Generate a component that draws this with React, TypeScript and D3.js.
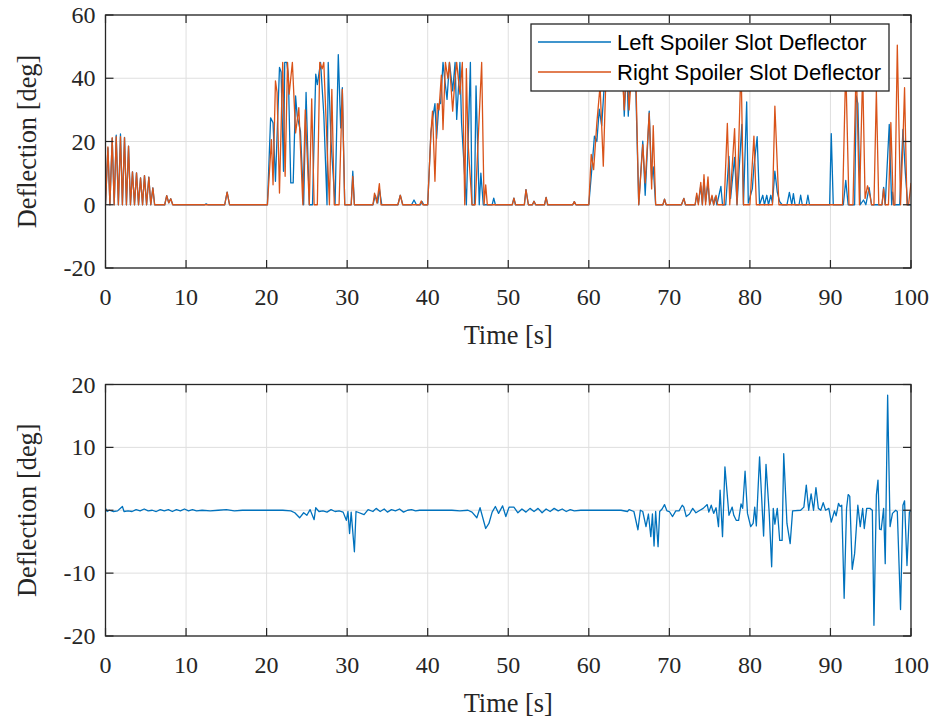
import React from "react";
import * as d3 from "d3";

const xTicks = [0, 10, 20, 30, 40, 50, 60, 70, 80, 90, 100];
const topYTicks = [-20, 0, 20, 40, 60];
const bottomYTicks = [-20, -10, 0, 10, 20];
const seriesNames = ["Left Spoiler Slot Deflector", "Right Spoiler Slot Deflector"];
const xLabel = "Time [s]";
const yLabel = "Deflection [deg]";

const leftDeflector: [number, number][] = [
  [0, 0], [0.3, 18], [0.55, 0], [0.83, 21], [1.08, 0], [1.33, 22], [1.6, 0], [1.86, 22.4], [2.1, 0], [2.36, 21.3], [2.6, 0],
  [2.86, 18.5], [3.1, 0], [3.35, 10.4], [3.6, 0], [3.85, 10.1], [4.1, 0], [4.35, 8.5], [4.6, 0], [4.84, 9.2], [5.1, 0],
  [5.38, 8.7], [5.62, 0], [5.88, 5.3], [6.1, 0], [7.35, 0], [7.6, 2.9], [7.85, 0.6], [8.1, 1.9], [8.35, 0], [12.3, 0],
  [12.5, 0.3], [12.7, 0], [14.8, 0], [15.1, 4], [15.4, 0], [20.1, 0],
  [20.5, 27.5], [20.8, 25.9], [21.1, 7.4], [21.6, 43.4], [21.8, 42], [22.1, 10.6], [22.25, 45], [22.5, 45], [22.7, 41],
  [23.0, 6.9], [23.3, 6.9], [23.6, 34.4], [23.8, 28], [24.2, 23.3], [24.6, 0], [24.9, 35.5], [25.3, 0], [25.7, 0],
  [26.1, 41.3], [26.3, 38], [26.7, 45], [27.1, 28.6], [27.5, 0], [27.65, 45], [28.0, 20], [28.5, 0], [28.9, 47.5],
  [29.2, 24.3], [29.4, 37], [29.7, 0], [30.5, 0], [30.7, 10.6], [30.9, 0],
  [33.2, 0], [33.5, 3], [33.8, 0.5], [34.0, 5], [34.3, 0], [36.3, 0], [36.6, 3], [36.9, 0], [38.0, 0], [38.3, 1.5],
  [38.6, 0], [39.1, 0], [39.3, 1], [39.5, 0], [40.0, 0],
  [40.4, 22.8], [40.6, 27], [40.9, 32], [41.1, 21], [41.4, 32], [41.6, 32], [41.9, 45], [42.1, 40], [42.4, 33.3],
  [42.7, 45], [43.1, 36], [43.4, 45], [43.6, 27], [44.0, 45], [44.2, 26], [44.8, 0], [45.3, 45], [45.5, 0], [45.8, 0],
  [46.0, 37.6], [46.4, 0], [46.6, 10], [46.9, 0], [48.0, 0], [48.2, 2.1], [48.4, 0],
  [50.5, 0], [50.7, 2.1], [50.9, 0], [52.0, 0], [52.2, 4.8], [52.5, 0], [53.0, 0], [53.2, 1.1], [53.4, 0], [54.5, 0],
  [54.7, 2.3], [54.9, 0], [58.0, 0], [58.2, 1], [58.4, 0], [60.0, 0],
  [60.4, 12], [60.7, 21.7], [61.0, 20], [61.3, 30.2], [61.6, 25], [61.9, 37], [62.3, 40.7], [62.6, 45], [63.0, 42],
  [63.4, 45], [63.8, 38], [64.2, 45], [64.4, 28], [64.7, 45], [64.9, 28], [65.2, 45], [65.6, 45], [65.8, 40], [66.2, 0],
  [66.7, 20.1], [67.0, 3], [67.5, 29.6], [67.8, 8], [68.0, 12], [68.3, 0], [69.2, 0], [69.4, 1.8], [69.6, 0],
  [71.5, 0], [71.8, 2], [72.0, 0], [73.2, 0], [73.4, 3], [73.6, 0.5], [73.9, 6], [74.1, 0], [74.3, 8], [74.5, 1],
  [74.8, 7], [75.0, 0], [75.3, 2.5], [75.5, 0], [75.7, 2.5], [75.9, 0], [76.4, 5.8], [76.6, 0], [77.0, 0], [77.4, 15.3],
  [77.6, 2], [78.1, 15], [78.4, 0], [79.0, 25.4], [79.2, 0], [79.6, 32.5], [79.8, 0.5], [80.3, 5], [80.5, 12],
  [80.9, 21.5], [81.2, 0], [81.6, 3], [81.8, 0], [82.1, 3], [82.3, 0], [82.6, 3], [82.8, 0.5], [83.1, 10.6], [83.4, 4],
  [83.7, 1], [84.0, 0], [84.6, 0], [84.9, 3.9], [85.2, 0], [85.4, 3.5], [85.6, 0], [86.1, 0], [86.3, 3], [86.5, 0],
  [87.0, 0], [87.2, 3], [87.4, 0], [89.9, 0], [90.1, 22.5], [90.35, 0], [91.6, 0], [91.9, 7.7], [92.2, 0], [93.0, 0],
  [93.2, 34.4], [93.4, 32], [93.7, 0], [94.1, 1.5], [94.4, 0], [94.8, 5.4], [95.1, 0], [96.4, 0], [96.6, 5.5], [96.8, 0],
  [97.3, 25.4], [97.6, 0], [97.7, 4], [97.9, 0], [98.6, 0], [99.0, 23.8], [99.3, 10], [99.6, 0], [100, 0],
];

const rightDeflector: [number, number][] = [
  [0, 0], [0.3, 18.3], [0.55, 0], [0.83, 21.2], [1.08, 0], [1.33, 21.5], [1.6, 0], [1.86, 21.5], [2.1, 0], [2.36, 21.2],
  [2.6, 0], [2.86, 18.5], [3.1, 0], [3.35, 10.4], [3.6, 0], [3.85, 10.1], [4.1, 0], [4.35, 8.5], [4.6, 0], [4.84, 9.2],
  [5.1, 0], [5.38, 8.7], [5.62, 0], [5.88, 5.3], [6.1, 0], [7.35, 0], [7.6, 2.9], [7.85, 0.6], [8.1, 1.9], [8.35, 0],
  [14.8, 0], [15.1, 4], [15.4, 0], [20.1, 0],
  [20.6, 20.6], [20.8, 6.3], [21.1, 39.2], [21.3, 35.5], [21.6, 3.7], [22.0, 45], [22.3, 9], [22.6, 45], [22.8, 35],
  [23.0, 40], [23.2, 45], [23.6, 22.7], [24.0, 30.7], [24.5, 0], [24.8, 30], [25.3, 0], [25.6, 33.5], [25.9, 0],
  [26.3, 0], [26.6, 45], [26.9, 43], [27.1, 45], [27.8, 0], [28.1, 36.5], [28.4, 0], [29.0, 0], [29.4, 36.5], [29.7, 0],
  [30.5, 0], [30.7, 9], [30.9, 0],
  [33.2, 0], [33.4, 3.7], [33.7, 0.5], [34.0, 6.7], [34.2, 0], [36.3, 0], [36.6, 3], [36.9, 0], [39.0, 0], [39.2, 1.2],
  [39.4, 0], [40.0, 0],
  [40.4, 22.8], [40.6, 29.6], [40.9, 7.4], [41.2, 32], [41.4, 30], [41.7, 41], [41.9, 23.8], [42.2, 45], [42.5, 40],
  [42.7, 45], [43.1, 29.6], [43.4, 40], [43.6, 45], [44.0, 35], [44.3, 45], [44.6, 0], [44.8, 43], [45.0, 20],
  [45.5, 0], [45.9, 0], [46.7, 45], [47.0, 0], [47.2, 6.3], [47.4, 0],
  [50.5, 0], [50.7, 2.1], [50.9, 0], [52.0, 0], [52.2, 4.8], [52.5, 0], [53.0, 0], [53.2, 1.1], [53.4, 0], [54.5, 0],
  [54.7, 2.3], [54.9, 0], [58.0, 0], [58.2, 1], [58.4, 0], [60.0, 0],
  [60.3, 15.9], [60.6, 11.1], [61.0, 25.9], [61.4, 37.6], [61.8, 12.2], [62.1, 38], [62.5, 45], [62.9, 40], [63.3, 45],
  [63.7, 42], [64.1, 45], [64.4, 30], [64.7, 45], [65.0, 30], [65.4, 45], [65.8, 45], [66.2, 0], [66.7, 19], [67.0, 6.9],
  [67.5, 29], [67.8, 5], [68.0, 25], [68.3, 0], [69.2, 0], [69.4, 1.8], [69.6, 0],
  [71.5, 0], [71.8, 2], [72.0, 0], [73.2, 0], [73.4, 3.7], [73.6, 0], [73.9, 7.1], [74.1, 0], [74.3, 9.5], [74.5, 0],
  [74.8, 8.8], [75.0, 0], [75.3, 3], [75.5, 0], [75.8, 3], [76.0, 0], [76.8, 0], [77.2, 25.7], [77.5, 0], [78.1, 24.1],
  [78.4, 0], [78.9, 45], [79.2, 0], [80.0, 0], [80.5, 21.7], [80.8, 0], [82.8, 0], [83.1, 31.2], [83.6, 0], [91.5, 0],
  [91.9, 44], [92.3, 0], [92.8, 0], [93.2, 45], [93.6, 0], [94.0, 42], [94.3, 2], [94.6, 6], [94.9, 3], [95.1, 0],
  [95.4, 0], [95.7, 36], [96.0, 0], [96.4, 0], [96.6, 5], [96.8, 0], [97.2, 0], [97.5, 26], [97.8, 0], [98.0, 0],
  [98.3, 50.5], [98.7, 0], [99.0, 20], [99.2, 37], [99.5, 0], [99.7, 0], [100, 6.9],
];

const deflectionDifference: [number, number][] = [
  [0, 0.3], [0.2, -0.2], [0.5, 0], [1.0, -0.2], [1.5, -0.1], [2.1, 0.6], [2.3, -0.2], [2.8, -0.1], [3.3, -0.2], [3.8, 0.1],
  [4.3, -0.1], [4.8, 0.2], [5.3, -0.1], [5.8, 0], [6.3, -0.2], [6.8, 0.1], [7.3, -0.1], [7.8, 0.1], [8.3, -0.2],
  [8.8, 0.1], [9.3, -0.1], [9.8, 0.2], [10.3, -0.1], [10.8, 0.1], [11.3, -0.1], [12, 0], [13, -0.1], [14, 0], [15, 0.1],
  [16, -0.1], [17, 0], [18, 0], [19, 0], [20, 0], [22, 0], [23, -0.1], [23.5, -0.4], [24.1, -1.2], [24.6, -0.4],
  [25.0, -0.8], [25.4, 0.1], [25.9, -1.5], [26.1, 0.4], [26.5, -0.2], [27, -0.1], [27.5, -0.3], [28, 0.1], [28.5, -0.2],
  [29, -0.1], [29.5, -0.3], [29.9, -1.6], [30.1, -0.2], [30.3, -3.7], [30.5, -0.3], [30.9, -6.6], [31.1, -0.2],
  [32.1, -0.7], [32.6, 0.1], [33.2, -0.2], [33.6, 0.3], [34.1, -0.2], [34.6, 0.2], [35, -0.3], [35.5, 0.1], [36, -0.1],
  [36.5, 0.2], [37, -0.3], [37.5, 0], [38, 0.1], [38.5, -0.1], [39, 0], [40, 0], [41, 0], [42, 0], [43, 0], [44, -0.1],
  [45, 0], [45.5, -0.3], [46.1, -1.2], [46.5, 0.4], [47.2, -2.9], [47.6, -2.1], [48.0, -0.3], [48.4, 0.6], [48.8, -0.5],
  [49.3, 0.7], [49.7, -1], [50.1, 0.5], [50.7, 0.5], [51.2, -0.4], [51.7, 0.2], [52.2, -0.3], [52.7, 0.3], [53.2, -0.2],
  [53.7, 0.3], [54.2, -0.4], [54.7, 0.2], [55.2, -0.2], [55.7, 0.3], [56.2, -0.1], [56.7, 0.2], [57.2, -0.2],
  [57.7, 0.1], [58.2, -0.1], [59, 0], [60, 0], [62, 0], [64, 0], [64.8, -0.2], [65, 0.1], [65.6, -0.2], [66.1, -3.1],
  [66.4, 0], [66.7, -0.2], [67.1, -2.6], [67.4, -0.6], [67.7, -4.2], [67.9, -0.6], [68.1, -5.7], [68.3, -0.2],
  [68.6, -5.8], [68.8, -0.2], [69.1, 0.2], [69.4, 0.9], [69.7, -0.1], [70.0, -0.2], [70.4, -1], [70.8, -0.1],
  [71.2, -0.1], [71.6, 0.8], [71.8, 0.5], [72.1, -1], [72.5, -0.6], [72.9, 0.3], [73.3, -0.4], [73.8, 0], [74.2, 0.3],
  [74.7, 0.9], [74.9, -0.3], [75.2, 0.8], [75.5, -0.5], [75.8, 0.4], [76.1, -2.6], [76.3, 3.2], [76.6, -4.2],
  [76.9, 6.9], [77.4, -0.8], [77.8, 0.5], [78.0, -0.8], [78.3, -1.6], [78.6, -1.6], [78.9, 1], [79.1, 0.3], [79.4, 6.2],
  [79.7, -0.5], [80.1, -2.6], [80.4, -2.1], [80.6, 0.5], [80.8, -2.5], [81.2, 8.5], [81.7, -4.1], [82.0, 7.3],
  [82.4, -0.5], [82.7, -9], [82.9, 0.3], [83.1, -2.2], [83.4, 0.3], [83.7, -4.8], [84.0, -4.8], [84.2, 9], [84.6, -2.1],
  [85.0, -5.3], [85.3, -0.1], [86.3, 0], [86.7, 0.5], [87.0, 4], [87.3, 0], [87.6, 2.6], [87.9, 0], [88.2, 3.6],
  [88.5, 0.3], [88.8, 0], [89.1, 1.2], [89.4, 0], [89.8, 0.3], [90.1, -1.9], [90.5, -0.1], [90.7, -0.9], [91.0, 1.1],
  [91.2, 0.6], [91.4, 0.8], [91.7, -14], [92.0, 0.3], [92.2, 2.5], [92.4, 2.2], [92.7, -9.4], [93.0, -6.9], [93.4, 0.8],
  [93.7, -2.6], [94.0, 0.3], [94.2, -2.9], [94.5, 0.3], [94.9, 0.3], [95.2, 0], [95.4, -18.3], [95.7, 2.4], [95.9, 4.8],
  [96.1, -3], [96.3, -3.1], [96.6, 0.3], [96.8, -8.5], [97.1, 18.3], [97.4, -2.6], [97.7, -0.5], [98.1, 0], [98.3, -0.2],
  [98.7, -15.8], [99.0, 0.8], [99.2, 1.5], [99.5, -8.8], [99.8, -0.3], [100, 0],
];

const BLUE = "#0072BD";
const ORANGE = "#D95319";
const AXIS = "#262626";
const GRID = "#dfdfdf";
const SERIF = "'Liberation Serif', 'Times New Roman', serif";
const SANS = "'Liberation Sans', Arial, sans-serif";

type PanelProps = {
  top: number;
  bottom: number;
  yDomain: [number, number];
  yTicks: number[];
  series: { data: [number, number][]; color: string }[];
  id: string;
  legend?: boolean;
};

const LEFT = 105.5;
const RIGHT = 911;
const TICK = 8;

function Panel({ top, bottom, yDomain, yTicks, series, id, legend }: PanelProps) {
  const x = d3.scaleLinear().domain([0, 100]).range([LEFT, RIGHT]);
  const y = d3.scaleLinear().domain(yDomain).range([bottom, top]);
  const line = d3
    .line<[number, number]>()
    .x((d) => x(d[0]))
    .y((d) => y(d[1]));
  const midY = (top + bottom) / 2;
  return (
    <g>
      <defs>
        <clipPath id={id}>
          <rect x={LEFT} y={top} width={RIGHT - LEFT} height={bottom - top} />
        </clipPath>
      </defs>
      <rect x={LEFT} y={top} width={RIGHT - LEFT} height={bottom - top} fill="#fff" />
      {xTicks.map((t) => (
        <line key={"gx" + t} x1={x(t)} x2={x(t)} y1={top} y2={bottom} stroke={GRID} strokeWidth={1} />
      ))}
      {yTicks.map((t) => (
        <line key={"gy" + t} x1={LEFT} x2={RIGHT} y1={y(t)} y2={y(t)} stroke={GRID} strokeWidth={1} />
      ))}
      <g clipPath={`url(#${id})`}>
        {series.map((s, i) => (
          <path key={i} d={line(s.data) || ""} fill="none" stroke={s.color} strokeWidth={1.3} strokeLinejoin="round" />
        ))}
      </g>
      {/* ticks on all sides */}
      {xTicks.map((t) => (
        <g key={"tx" + t}>
          <line x1={x(t)} x2={x(t)} y1={bottom} y2={bottom - TICK} stroke={AXIS} strokeWidth={1.2} />
          <line x1={x(t)} x2={x(t)} y1={top} y2={top + TICK} stroke={AXIS} strokeWidth={1.2} />
        </g>
      ))}
      {yTicks.map((t) => (
        <g key={"ty" + t}>
          <line x1={LEFT} x2={LEFT + TICK} y1={y(t)} y2={y(t)} stroke={AXIS} strokeWidth={1.2} />
          <line x1={RIGHT} x2={RIGHT - TICK} y1={y(t)} y2={y(t)} stroke={AXIS} strokeWidth={1.2} />
        </g>
      ))}
      <rect x={LEFT} y={top} width={RIGHT - LEFT} height={bottom - top} fill="none" stroke={AXIS} strokeWidth={1.3} />
      {xTicks.map((t) => (
        <text key={"lx" + t} x={x(t)} y={bottom + 37} textAnchor="middle" fontFamily={SERIF} fontSize={24} fill={AXIS}>
          {t}
        </text>
      ))}
      {yTicks.map((t) => (
        <text key={"ly" + t} x={LEFT - 10} y={y(t) + 8} textAnchor="end" fontFamily={SERIF} fontSize={24} fill={AXIS}>
          {t}
        </text>
      ))}
      <text x={(LEFT + RIGHT) / 2} y={bottom + 76} textAnchor="middle" fontFamily={SERIF} fontSize={26.4} fill={AXIS}>
        {xLabel}
      </text>
      <text
        transform={`translate(36,${midY}) rotate(-90)`}
        textAnchor="middle"
        fontFamily={SERIF}
        fontSize={26.4}
        fill={AXIS}
      >
        {yLabel}
      </text>
      {legend && (
        <g>
          <rect x={531} y={24} width={358} height={67} fill="#fff" stroke={AXIS} strokeWidth={1.3} />
          {seriesNames.map((n, i) => (
            <g key={n}>
              <line x1={538} x2={611} y1={42 + i * 30} y2={42 + i * 30} stroke={series[i].color} strokeWidth={1.3} />
              <text x={617} y={50 + i * 30} fontFamily={SANS} fontSize={22} fill="#000">
                {n}
              </text>
            </g>
          ))}
        </g>
      )}
    </g>
  );
}

export default function App() {
  return (
    <svg
      width={935}
      height={722}
      style={{ position: "absolute", left: 0, top: 0, background: "#fff" }}
    >
      <rect width={935} height={722} fill="#fff" />
      <Panel
        id="clipTop"
        top={15}
        bottom={268}
        yDomain={[-20, 60]}
        yTicks={topYTicks}
        series={[
          { data: leftDeflector, color: BLUE },
          { data: rightDeflector, color: ORANGE },
        ]}
        legend
      />
      <Panel
        id="clipBottom"
        top={384.5}
        bottom={636}
        yDomain={[-20, 20]}
        yTicks={bottomYTicks}
        series={[{ data: deflectionDifference, color: BLUE }]}
      />
    </svg>
  );
}
